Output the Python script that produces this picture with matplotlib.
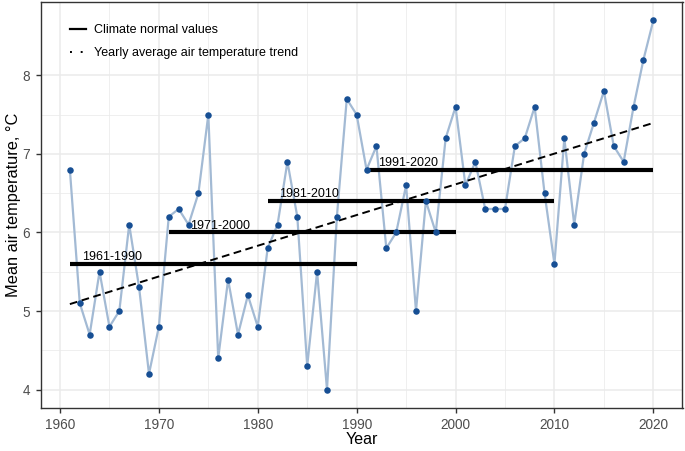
import numpy as np
import matplotlib
matplotlib.use("Agg")
import matplotlib.pyplot as plt
from matplotlib.lines import Line2D

years = list(range(1961, 2021))
temps = [6.8, 5.1, 4.7, 5.5, 4.8, 5.0, 6.1, 5.3, 4.2, 4.8,
         6.2, 6.3, 6.1, 6.5, 7.5, 4.4, 5.4, 4.7, 5.2, 4.8,
         5.8, 6.1, 6.9, 6.2, 4.3, 5.5, 4.0, 6.2, 7.7, 7.5,
         6.8, 7.1, 5.8, 6.0, 6.6, 5.0, 6.4, 6.0, 7.2, 7.6,
         6.6, 6.9, 6.3, 6.3, 6.3, 7.1, 7.2, 7.6, 6.5, 5.6,
         7.2, 6.1, 7.0, 7.4, 7.8, 7.1, 6.9, 7.6, 8.2, 8.7]

normal_labels = ["1961-1990", "1971-2000", "1981-2010", "1991-2020"]
normal_start = [1961, 1971, 1981, 1991]
normal_end = [1990, 2000, 2010, 2020]
normal_values = [5.6, 6.0, 6.4, 6.8]
label_x = [1962.2, 1973.2, 1982.2, 1992.2]

plt.rcParams['font.family'] = ['Liberation Sans', 'DejaVu Sans']

fig = plt.figure(figsize=(6.85, 4.51), dpi=100)
W, H = 685, 451
ax = fig.add_axes([40.7 / W, 1 - 408 / H, (682.5 - 40.7) / W, (408 - 2) / H])

x = np.array(years, dtype=float)
y = np.array(temps)
xlo, xhi = x.min(), x.max()
ylo, yhi = y.min(), y.max()
ax.set_xlim(xlo - 0.05 * (xhi - xlo), xhi + 0.05 * (xhi - xlo))
ax.set_ylim(ylo - 0.05 * (yhi - ylo), yhi + 0.05 * (yhi - ylo))

# grid
for v in [1965, 1975, 1985, 1995, 2005, 2015]:
    ax.axvline(v, color='#ebebeb', lw=0.55, zorder=0)
for v in [4.5, 5.5, 6.5, 7.5]:
    ax.axhline(v, color='#ebebeb', lw=0.55, zorder=0)
for v in range(1960, 2021, 10):
    ax.axvline(v, color='#ebebeb', lw=1.1, zorder=0)
for v in [4, 5, 6, 7, 8]:
    ax.axhline(v, color='#ebebeb', lw=1.1, zorder=0)

ax.plot(x, y, color='#a3bad4', lw=1.6, zorder=2)
ax.scatter(x, y, s=22, color='#174f94', zorder=4, linewidths=0)

# trend
coef = np.polyfit(x, y, 1)
ax.plot([xlo, xhi], np.polyval(coef, [xlo, xhi]), color='black', lw=1.4,
        ls=(0, (4, 2.3)), zorder=3)

for lab, s, e, v, lx in zip(normal_labels, normal_start, normal_end, normal_values, label_x):
    ax.plot([s, e], [v, v], color='black', lw=3.0, solid_capstyle='butt', zorder=3)
    ax.text(lx, v + 0.01, lab, fontsize=9, color='black', ha='left', va='bottom', zorder=5)

ax.set_xticks(range(1960, 2021, 10))
ax.set_yticks([4, 5, 6, 7, 8])
ax.tick_params(axis='both', colors='#333333', labelcolor='#4d4d4d', labelsize=9.8,
               length=3.5, width=1.0, pad=4)
for sp in ax.spines.values():
    sp.set_color('#333333')
    sp.set_linewidth(1.0)

ax.set_xlabel('Year', fontsize=11.5, color='black', labelpad=0)
ax.set_ylabel('Mean air temperature, °C', fontsize=11.8, color='black', labelpad=1.5)

handles = [Line2D([], [], color='black', lw=1.6),
           Line2D([], [], color='black', lw=1.4, ls=(0, (1, 4.5)))]
leg = ax.legend(handles, ['Climate normal values', 'Yearly average air temperature trend'],
                loc='upper left', bbox_to_anchor=(0.038, 0.958), frameon=False,
                fontsize=9, handlelength=1.3, handletextpad=0.6, labelspacing=0.9,
                borderaxespad=0)

fig.savefig('out.png', dpi=100)
